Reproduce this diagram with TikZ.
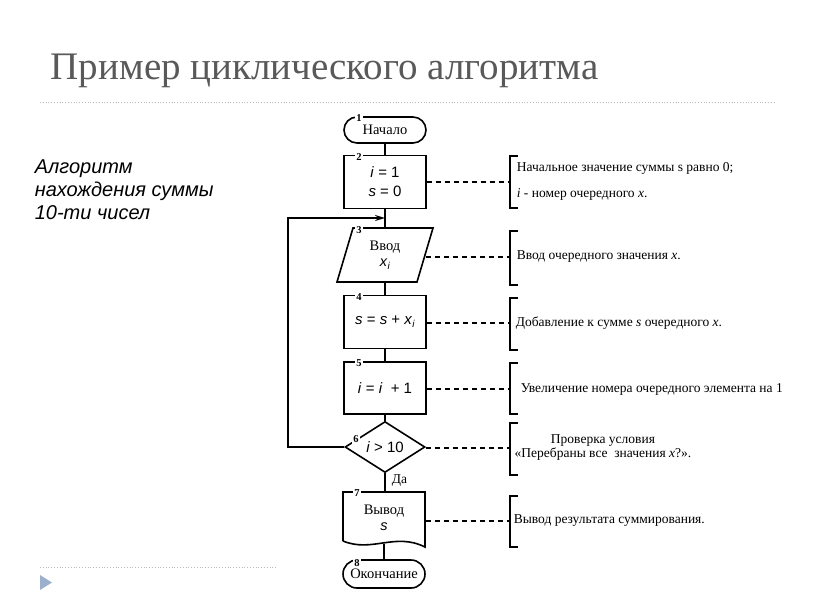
\documentclass[tikz,border=0pt]{standalone}
\usepackage{fontspec}
\setmainfont{Liberation Serif}
\setsansfont{Liberation Sans}
\usetikzlibrary{shapes.geometric,arrows.meta}
\definecolor{titlegray}{HTML}{595959}
\definecolor{sepgray}{HTML}{BBBBBB}
\definecolor{tri}{HTML}{9BB0CC}
\newcommand{\sbi}[1]{\raisebox{-0.35ex}{\fontsize{10}{10}\selectfont\textit{#1}}}
\begin{document}
\begin{tikzpicture}[x=1pt,y=-1pt,line width=1.6pt,
  term/.style={draw,rounded corners=13pt,minimum width=82pt,minimum height=26pt,inner sep=0pt,font=\fontsize{14.5}{16}\selectfont},
  proc/.style={draw,minimum width=82pt,minimum height=53pt,inner sep=0pt,align=center,font=\sffamily\fontsize{15}{19}\selectfont},
  plain/.style={minimum width=80pt,inner sep=0pt,align=center,font=\fontsize{14.5}{18}\selectfont},
  num/.style={fill=white,inner sep=1pt,font=\bfseries\fontsize{10.5}{10.5}\selectfont},
  link/.style={dash pattern=on 5pt off 4pt},
  brk/.style={line width=1.6pt},
  note/.style={anchor=west,inner sep=0pt,align=left,font=\fontsize{13.5}{15}\selectfont}]
\useasboundingbox (0,0) rectangle (816,613);
% title and decorations
\node[anchor=west,inner sep=0pt,text=titlegray,font=\fontsize{39}{42}\selectfont] (title) at (50,71) {Пример циклического алгоритма};
\draw[sepgray,line width=0.8pt,dotted] (40,102) -- (776,102);
\draw[sepgray,line width=0.8pt,dotted] (40,567) -- (276,567);
\fill[tri] (40,575) -- (52,582.5) -- (40,590) -- cycle;
\node[anchor=north west,inner sep=0pt,align=left,font=\sffamily\itshape\fontsize{20}{23}\selectfont] (lefttext) at (34,159) {Алгоритм\\нахождения суммы\\10-ти чисел};
% flowchart nodes
\node[term] (n1) at (385,130) {Начало};
\node[proc] (n2) at (385,182) {\textit{i} = 1\\\textit{s} = 0};
\node[plain,minimum height=54pt] (n3) at (385,255) {Ввод\\[-2pt]\textsf{\textit{x}\sbi{i}}};
\draw (353,228) -- (433,228) -- (417,282) -- (337,282) -- cycle;
\node[proc] (n4) at (385,322) {\textit{s} = \textit{s} + \textit{x}\sbi{i}};
\node[proc,minimum height=52pt] (n5) at (385,388) {\textit{i} = \textit{i}~ + 1};
\node[draw,diamond,aspect=1.6,minimum width=80pt,minimum height=51pt,inner sep=0pt,font=\sffamily\fontsize{15}{17}\selectfont] (n6) at (385,447) {\textit{i} > 10};
\node[plain,minimum width=82pt,minimum height=51pt] (n7) at (384,517.5) {Вывод\\[-2pt]\textsf{\textit{s}}};
\draw (343,541) -- (343,492) -- (425,492) -- (425,547) .. controls (395,532) and (372,553) .. (343,541);
\node[term,minimum height=28pt,rounded corners=14pt] (n8) at (384,574) {Окончание};
% connectors
\draw (n1.south) -- (n2.north);
\draw (n2.south) -- (n3.north);
\draw (n3.south) -- (n4.north);
\draw (n4.south) -- (n5.north);
\draw (n5.south) -- (n6.north);
\draw (n6.south) -- (n7.north -| n6.south);
\draw (n7.south) -- (n8.north);
\coordinate (j) at (385,218);
\draw[-{Stealth[length=10pt,width=6pt]}] (n6.west) -| (288,218) -- (j);
\node[anchor=west,inner sep=0pt,font=\fontsize{13.5}{15}\selectfont] (yes) at (391,481) {Да};
% numbers
\node[num] (k1) at (359,118) {1};
\node[num] (k2) at (359,157) {2};
\node[num] (k3) at (359,230) {3};
\node[num] (k4) at (359,297) {4};
\node[num] (k5) at (359,363) {5};
\node[num] (k6) at (356,439) {6};
\node[num] (k7) at (357,493) {7};
\node[num] (k8) at (357,563) {8};
% annotations
\coordinate (b2) at (510,182);
\coordinate (b3) at (510,257);
\coordinate (b4) at (510,323);
\coordinate (b5) at (510,389);
\coordinate (b6) at (510,448);
\coordinate (b7) at (510,521);
\draw[link] (n2.east) -- (b2);
\draw[link] (n3.east) ++(0,2) -- (b3);
\draw[link] (n4.east) ++(0,1) -- (b4);
\draw[link] (n5.east) ++(0,1) -- (b5);
\draw[link] (n6.east) ++(0,1) -- (b6);
\draw[link] (n7.east) ++(0,3.5) -- (b7);
\draw[brk] (518,156) -- (510,156) -- (510,208) -- (518,208);
\draw[brk] (518,231) -- (510,231) -- (510,285) -- (518,285);
\draw[brk] (518,298) -- (510,298) -- (510,350) -- (518,350);
\draw[brk] (518,363) -- (510,363) -- (510,414) -- (518,414);
\draw[brk] (518,423) -- (510,423) -- (510,475) -- (518,475);
\draw[brk] (518,496) -- (510,496) -- (510,547) -- (518,547);
\node[note,font=\fontsize{13.5}{26}\selectfont] (t2) at (516,181) {Начальное значение суммы s равно 0;\\\textit{i} - номер очередного \textit{x}.};
\node[note] (t3) at (516,257) {Ввод очередного значения \textit{x}.};
\node[note] (t4) at (515,323) {Добавление к сумме \textit{s} очередного \textit{x}.};
\node[note] (t5) at (520,389) {Увеличение номера очередного элемента на 1};
\node[inner sep=0pt,align=center,font=\fontsize{13.5}{14}\selectfont] (t6) at (603,448) {Проверка условия\\«Перебраны все~ значения \textit{x}?».};
\node[note] (t7) at (513,521) {Вывод результата суммирования.};
\end{tikzpicture}
\end{document}
